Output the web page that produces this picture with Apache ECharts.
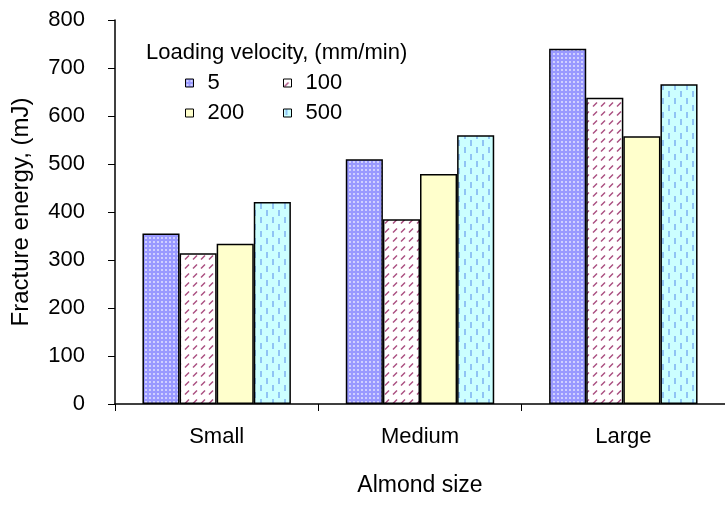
<!DOCTYPE html>
<html>
<head>
<meta charset="utf-8">
<script src="https://cdn.jsdelivr.net/npm/echarts@6/dist/echarts.min.js"></script>
<style>html,body{margin:0;padding:0;background:#fff;}#c{width:725px;height:506px;}</style>
</head>
<body>
<div id="c"></div>
<script>
const categories = ['Small', 'Medium', 'Large'];
const seriesNames = ['5', '100', '200', '500'];
const v5 = [355, 510, 740];
const v100 = [314, 385, 638];
const v200 = [334, 479, 558];
const v500 = [421, 560, 666];
const yTicks = [0, 100, 200, 300, 400, 500, 600, 700, 800];
const legendTitle = 'Loading velocity, (mm/min)';
const xName = 'Almond size';
const yName = 'Fracture energy, (mJ)';

function pattern(w, h, bg, draw) {
  const c = document.createElement('canvas');
  c.width = w; c.height = h;
  const g = c.getContext('2d');
  g.fillStyle = bg; g.fillRect(0, 0, w, h);
  if (draw) draw(g);
  return { image: c, repeat: 'repeat' };
}
const pDots = pattern(4, 4, '#9999ff', g => { g.fillStyle = '#d0d0ff'; g.fillRect(1, 1, 2, 2); });
const pDiag = pattern(8, 9, '#ffffff', g => {
  g.strokeStyle = '#a84c7e'; g.lineWidth = 1.4;
  g.beginPath(); g.moveTo(1, 7.5); g.lineTo(5, 3.5); g.stroke();
});
const pYellow = '#ffffcc';
const pDash = pattern(12, 14, '#ccffff', g => {
  g.fillStyle = '#90c4f4';
  g.fillRect(2, 0, 2, 6);
  g.fillRect(8, 7, 2, 6);
});
const fills = [pDots, pDiag, pYellow, pDash];
const values = [v5, v100, v200, v500];

const FONT = 'Liberation Sans';
const chart = echarts.init(document.getElementById('c'), null, { renderer: 'canvas' });

const legendPos = [[185, 72], [283, 72], [185, 102], [283, 102]];
const legends = seriesNames.map((n, i) => ({
  data: [n],
  left: legendPos[i][0], top: legendPos[i][1],
  icon: 'rect', itemWidth: 8, itemHeight: 8, itemGap: 0,
  itemStyle: { borderColor: '#000', borderWidth: 1 },
  textStyle: { fontFamily: FONT, fontSize: 22, color: '#000', padding: [0, 0, 0, 9] },
  padding: 0, selectedMode: false
}));

chart.setOption({
  animation: false,
  backgroundColor: '#fff',
  title: {
    text: legendTitle, left: 146, top: 42, padding: 0,
    textStyle: { fontFamily: FONT, fontSize: 22, fontWeight: 'normal', color: '#000' }
  },
  legend: legends,
  grid: { left: 115, top: 20, width: 619, bottom: 102, containLabel: false },
  xAxis: {
    type: 'category', data: categories,
    name: xName, nameLocation: 'middle', nameGap: 70,
    nameTextStyle: { fontFamily: FONT, fontSize: 23, color: '#000' },
    axisLine: { lineStyle: { color: '#000', width: 1.5 } },
    axisTick: { show: true, alignWithLabel: false, length: 7, lineStyle: { color: '#000' } },
    axisLabel: { fontFamily: FONT, fontSize: 22, color: '#000', margin: 22 }
  },
  yAxis: {
    type: 'value', min: 0, max: 800, interval: 100,
    name: yName, nameLocation: 'middle', nameGap: 82,
    nameTextStyle: { fontFamily: FONT, fontSize: 24, color: '#000' },
    axisLine: { show: true, lineStyle: { color: '#000', width: 1.5 } },
    axisTick: { show: true, length: 7, lineStyle: { color: '#000' } },
    axisLabel: { fontFamily: FONT, fontSize: 22, color: '#000', margin: 30,
      formatter: v => (yTicks.indexOf(v) >= 0 ? String(v) : '') },
    splitLine: { show: false }
  },
  series: seriesNames.map((n, i) => ({
    name: n, type: 'bar', data: values[i],
    barGap: '0%', barCategoryGap: '27%',
    itemStyle: { color: fills[i], borderColor: '#000', borderWidth: 1.5 }
  }))
});
</script>
</body>
</html>
